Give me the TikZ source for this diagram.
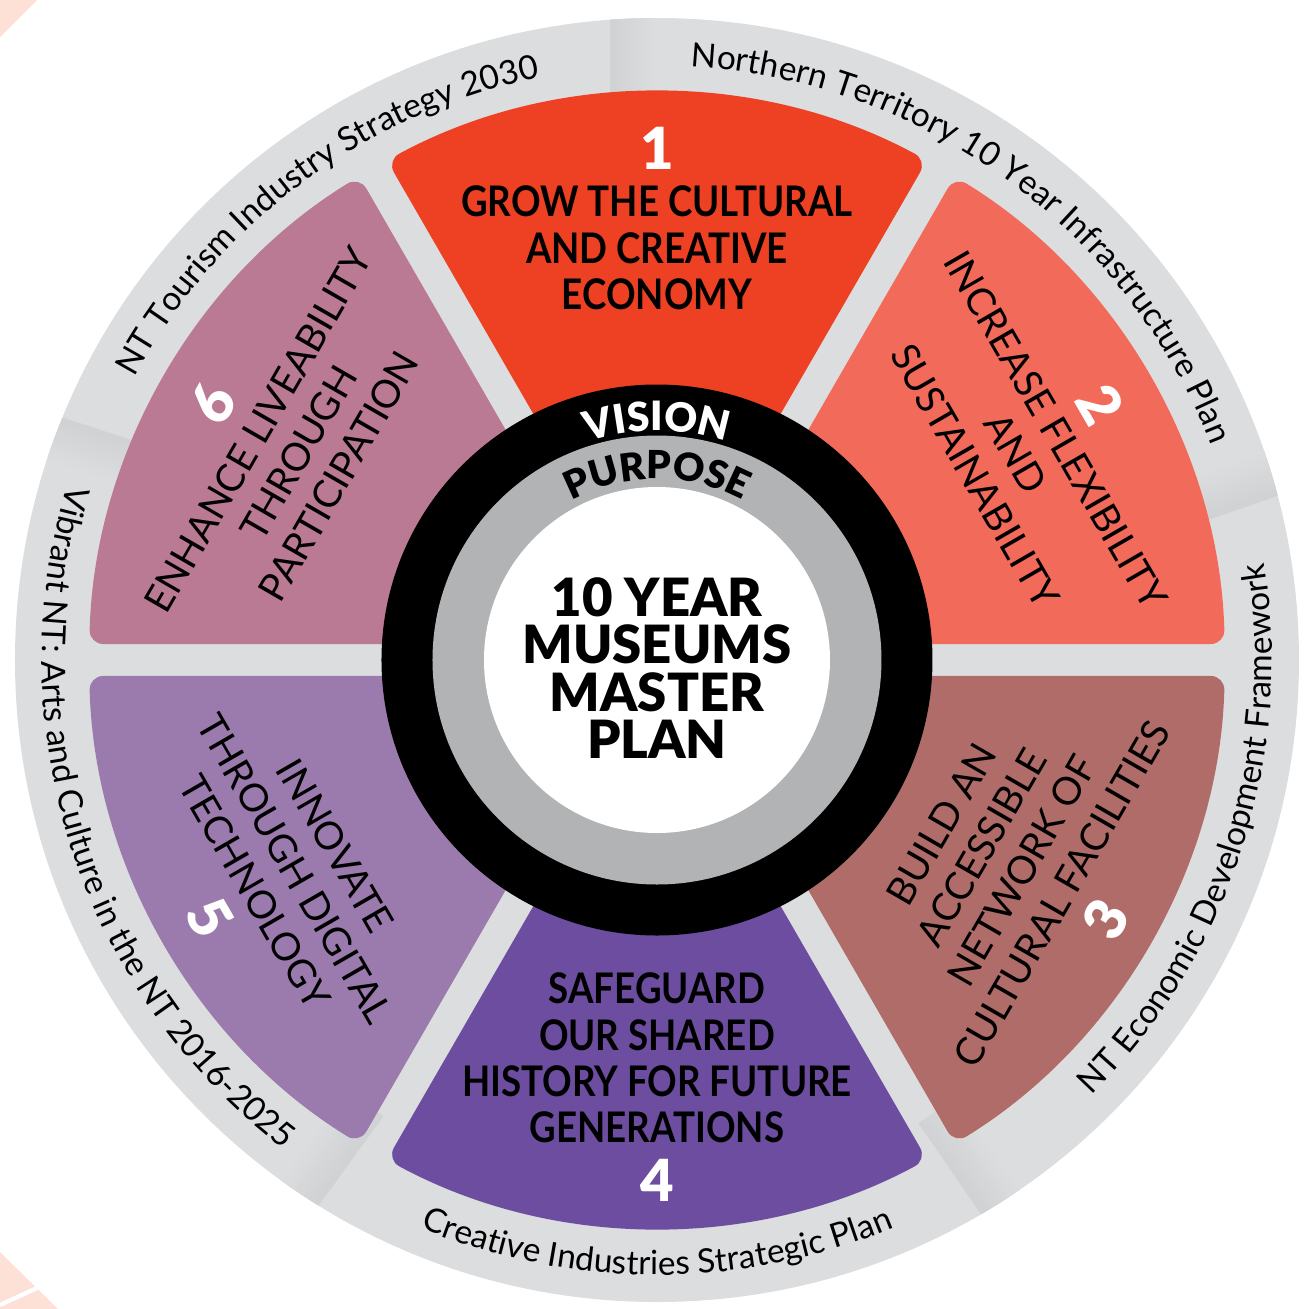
\documentclass[tikz,border=0pt]{standalone}
\usepackage{fontspec}
\setmainfont{Lato}
\newfontfamily\goalfont{Lato Bold}[FakeStretch=0.87]
\newfontfamily\heavyfont{Lato Black}
\usetikzlibrary{decorations.text}

\definecolor{ringgrey}{HTML}{DCDDDE}
\definecolor{sepgrey}{HTML}{9FA1A4}
\definecolor{midgrey}{HTML}{B1B3B5}
\definecolor{peach}{HTML}{FDE1D6}
\definecolor{goalA}{HTML}{EE4123}
\definecolor{goalB}{HTML}{F26A5A}
\definecolor{goalC}{HTML}{B06C68}
\definecolor{goalD}{HTML}{6C4D9F}
\definecolor{goalE}{HTML}{9B7BAD}
\definecolor{goalF}{HTML}{BB7A93}

\tikzset{
	goal/.style={align=center, inner sep=0pt, text=black},
	goalbold/.style={goal, font=\goalfont\fontsize{12}{13.2}\selectfont},
	goalreg/.style={goal, font=\fontsize{11}{13.2}\selectfont},
	goalnum/.style={inner sep=0pt, text=white, font=\heavyfont\fontsize{16.5}{18}\selectfont},
	ringtext/.style={decorate, decoration={text along path, text align=center,
		text={|\fontsize{9.5}{12}\selectfont|#1}}},
}

\begin{document}
\begin{tikzpicture}
	\useasboundingbox (-6.57,-6.49) rectangle (6.47,6.60);
	% corner bits
	\fill[peach] (-6.57,6.60) -- (-6.20,6.60) -- (-6.57,6.23) -- cycle;
	\fill[peach] (-6.57,-5.92) -- (-5.99,-6.49) -- (-6.57,-6.49) -- cycle;
	\draw[white, line width=1.2pt] (-6.57,-6.45) -- (-6.20,-6.28);

	% outer ring and separators
	\fill[ringgrey] (0,0) circle (6.42);
	\begin{scope}
		\clip (0,0) circle (6.42);
		\foreach \sa/\sd in {90/-1, 19/1, 162/1, 234/-1, 304.5/1}
			\foreach \k [evaluate=\k as \pct using int(100-5*\k)] in {0,...,19}
				\fill[sepgrey!\pct!ringgrey, rotate=\sa]
					(5.3,{-\sd*0.023*\k}) rectangle (6.5,{-\sd*0.023*(\k+1.4)});
	\end{scope}

	% six goals
	\foreach \ang/\col in {90/goalA, 30/goalB, -30/goalC, -90/goalD, -150/goalE, 150/goalF}
		\fill[\col, rounded corners=0.14cm] (\ang:0.32) -- (\ang-28.39:5.68)
			arc[start angle=\ang-28.39, end angle=\ang+28.39, radius=5.68] -- cycle;

	% centre
	\fill[black] (0,0) circle (2.755);
	\fill[midgrey] (0,0) circle (2.245);
	\fill[white] (0,0) circle (1.73);

	\path[decorate, decoration={text along path, text align=center, text color=white,
		text={|\heavyfont\fontsize{11.5}{13}\selectfont|VISION}}]
		(150:2.29) arc[start angle=150, end angle=30, radius=2.29];
	\path[decorate, decoration={text along path, text align=center, text color=black,
		text={|\heavyfont\fontsize{11}{13}\selectfont|PURPOSE}}]
		(150:1.81) arc[start angle=150, end angle=30, radius=1.81];

	\node[align=center, inner sep=0pt, font=\heavyfont\fontsize{15}{13.5}\selectfont] (plan) at (0,-0.08)
		{10 YEAR\\MUSEUMS\\MASTER\\PLAN};

	% goal texts
	\node[goalnum] (n1) at (90:5.12) {1};
	\node[goalbold] (g1) at (90:4.12) {GROW THE CULTURAL\\AND CREATIVE\\ECONOMY};
	\node[goalnum, rotate=-60] (n2) at (30:5.12) {2};
	\node[goalreg, rotate=-60] (g2) at (30:4.14) {INCREASE FLEXIBILITY\\AND\\SUSTAINABILITY};
	\node[goalnum, rotate=60] (n3) at (-30:5.18) {3};
	\node[goalreg, rotate=60] (g3) at (-30:3.98) {BUILD AN\\ACCESSIBLE\\NETWORK OF\\CULTURAL FACILITIES};
	\node[goalnum] (n4) at (-90:5.20) {4};
	\node[goalbold] (g4) at (-90:3.98) {SAFEGUARD\\OUR SHARED\\HISTORY FOR FUTURE\\GENERATIONS};
	\node[goalnum, rotate=-60] (n5) at (-150:5.16) {5};
	\node[goalreg, rotate=-60] (g5) at (-150:4.18) {INNOVATE\\THROUGH DIGITAL\\TECHNOLOGY};
	\node[goalnum, rotate=60] (n6) at (150:5.13) {6};
	\node[goalreg, rotate=60] (g6) at (150:4.14) {ENHANCE LIVEABILITY\\THROUGH\\PARTICIPATION};

	% strategy names round the rim
	\path[ringtext=NT Tourism Industry Strategy 2030]
		(171.5:5.94) arc[start angle=171.5, end angle=81.5, radius=5.94];
	\path[ringtext=Northern Territory 10 Year Infrastructure Plan]
		(99:5.94) arc[start angle=99, end angle=9, radius=5.94];
	\path[ringtext=NT Economic Development Framework]
		(-63:6.15) arc[start angle=-63, end angle=27, radius=6.15];
	\path[ringtext=Creative Industries Strategic Plan]
		(-135:6.15) arc[start angle=-135, end angle=-45, radius=6.15];
	\path[ringtext=Vibrant NT: Arts and Culture in the NT 2016-2025]
		(153:6.15) arc[start angle=153, end angle=243, radius=6.15];
\end{tikzpicture}
\end{document}
